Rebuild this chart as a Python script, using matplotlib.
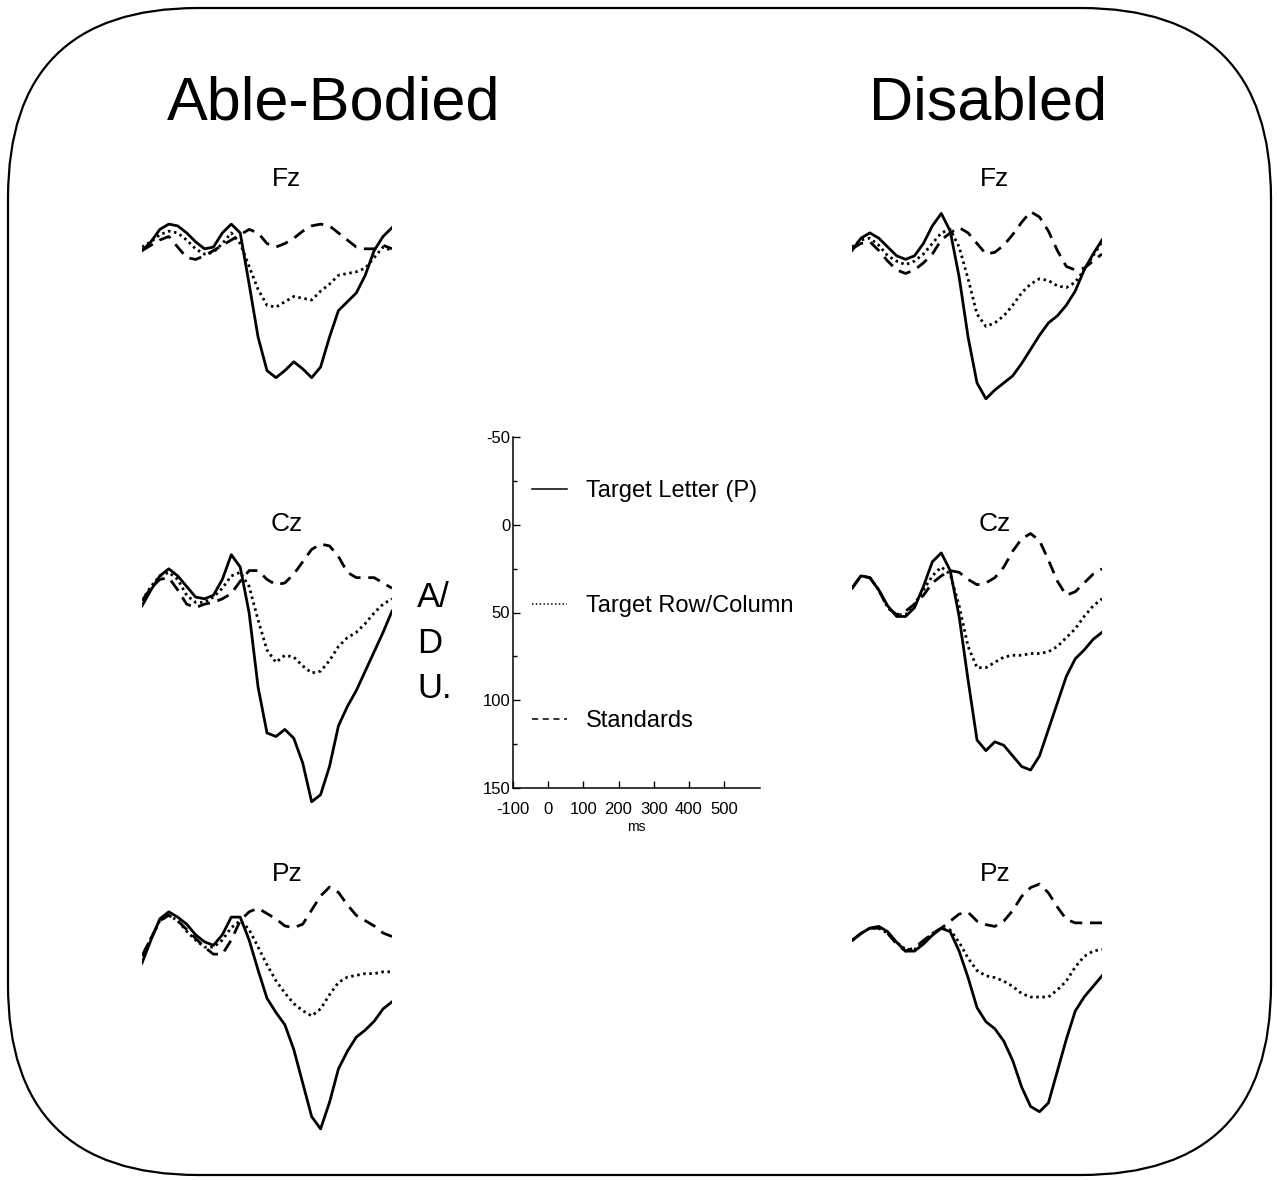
import numpy as np
import matplotlib
matplotlib.use('Agg')
import matplotlib.pyplot as plt
from matplotlib.lines import Line2D
from matplotlib.patches import FancyBboxPatch

plt.rcParams['font.family'] = ['Liberation Sans', 'DejaVu Sans']

W, H = 1277, 1180          # output size in px (dpi 100)

# ── ERP averages, A/D units (negative up), sampled every 25 ms ───────────────
TIME = np.arange(-100, 601, 25)

AB_FZ_LETTER = [6, 1, -6, -9, -8, -4, 1, 5, 4, -4, -9, -4, 25, 55, 74, 78, 74, 69, 73, 78, 72, 55, 40, 35, 30, 20, 6, -2, -7]
AB_FZ_ROW    = [4, 1, -3, -5, -4, 0, 5, 8, 7, 2, -4, 2, 15, 28, 37, 38, 35, 32, 33, 34, 29, 25, 20, 19, 18, 16, 10, 4, 6]
AB_FZ_STD    = [6, 3, 0, -2, 4, 10, 11, 9, 6, 3, 0, -3, -6, -4, 2, 4, 2, -1, -5, -8, -9, -8, -4, 0, 4, 5, 5, 3, 5]

DIS_FZ_LETTER = [2, -5, -8, -5, 0, 5, 7, 5, -2, -12, -19, -9, 17, 51, 77, 86, 81, 77, 73, 66, 58, 50, 43, 39, 33, 25, 13, 4, -4]
DIS_FZ_ROW    = [0, -4, -5, -1, 5, 8, 10, 8, 4, -2, -8, -10, 0, 18, 38, 45, 43, 39, 33, 26, 21, 18, 19, 22, 23, 20, 13, 5, -3]
DIS_FZ_STD    = [1, -2, -3, 2, 8, 13, 15, 13, 9, 4, -4, -8, -11, -8, -2, 4, 3, -1, -7, -14, -20, -17, -9, 2, 11, 13, 12, 8, 4]

AB_CZ_LETTER = [9, 0, -8, -12, -8, -2, 4, 5, 3, -6, -20, -13, 13, 55, 81, 83, 79, 84, 98, 120, 116, 100, 77, 66, 57, 46, 35, 24, 12]
AB_CZ_ROW    = [6, -2, -8, -10, -6, 3, 7, 7, 4, -1, -8, -10, -2, 17, 34, 41, 37, 38, 43, 47, 46, 40, 32, 27, 24, 19, 13, 8, 5]
AB_CZ_STD    = [6, -1, -6, -7, 0, 8, 10, 8, 7, 5, 2, -5, -11, -11, -6, -3, -4, -9, -16, -23, -26, -25, -19, -10, -7, -7, -7, -4, -1]

DIS_CZ_LETTER = [-1, -8, -7, 0, 9, 15, 15, 10, -2, -16, -21, -11, 15, 51, 85, 91, 86, 88, 94, 100, 102, 94, 79, 64, 49, 39, 34, 28, 24]
DIS_CZ_ROW    = [-1, -8, -7, 0, 10, 14, 14, 8, 0, -8, -13, -9, 9, 32, 44, 44, 41, 38, 37, 37, 36, 36, 35, 32, 27, 22, 15, 9, 5]
DIS_CZ_STD    = [-1, -8, -7, 0, 10, 14, 12, 8, 3, -4, -8, -11, -10, -6, -3, -4, -7, -13, -22, -29, -32, -28, -17, -5, 3, 1, -4, -9, -12]

AB_PZ_LETTER = [17, 4, -8, -12, -9, -5, 1, 5, 7, 1, -9, -9, 4, 21, 37, 45, 52, 66, 85, 104, 111, 96, 77, 67, 59, 55, 50, 43, 39]
AB_PZ_ROW    = [13, 3, -7, -10, -7, -1, 4, 8, 8, 4, -3, -7, -2, 8, 18, 27, 34, 40, 44, 47, 43, 35, 28, 25, 24, 23, 23, 22, 22]
AB_PZ_STD    = [13, 3, -7, -10, -7, -2, 3, 8, 12, 12, 4, -7, -12, -14, -11, -8, -4, -3, -5, -13, -21, -26, -23, -16, -10, -7, -4, 0, 2]

DIS_PZ_LETTER = [2, -2, -5, -6, -3, 3, 8, 8, 4, -1, -5, -3, 8, 23, 40, 48, 52, 59, 70, 85, 96, 99, 94, 76, 58, 42, 34, 28, 22]
DIS_PZ_ROW    = [2, -2, -5, -5, -2, 3, 7, 7, 3, -2, -5, -4, 3, 12, 19, 22, 23, 25, 28, 32, 34, 34, 34, 30, 25, 17, 11, 8, 7]
DIS_PZ_STD    = [2, -2, -5, -5, -2, 4, 8, 6, 2, -2, -5, -9, -13, -14, -9, -7, -6, -9, -15, -23, -28, -30, -25, -17, -10, -8, -8, -8, -8]

GROUPS   = ['Able-Bodied', 'Disabled']
CHANNELS = ['Fz', 'Cz', 'Pz']
CONDITIONS = ['Target Letter (P)', 'Target Row/Column', 'Standards']
SCALE_YTICKS = [-50, 0, 50, 100, 150]
SCALE_XTICKS = [-100, 0, 100, 200, 300, 400, 500]

PANELS = {
    ('Able-Bodied', 'Fz'): (AB_FZ_LETTER, AB_FZ_ROW, AB_FZ_STD),
    ('Disabled', 'Fz'):    (DIS_FZ_LETTER, DIS_FZ_ROW, DIS_FZ_STD),
    ('Able-Bodied', 'Cz'): (AB_CZ_LETTER, AB_CZ_ROW, AB_CZ_STD),
    ('Disabled', 'Cz'):    (DIS_CZ_LETTER, DIS_CZ_ROW, DIS_CZ_STD),
    ('Able-Bodied', 'Pz'): (AB_PZ_LETTER, AB_PZ_ROW, AB_PZ_STD),
    ('Disabled', 'Pz'):    (DIS_PZ_LETTER, DIS_PZ_ROW, DIS_PZ_STD),
}

# ── layout (pixels) ──────────────────────────────────────────────────────────
PX_PER_UNIT = 1.765
PANEL_W     = 250
YLO, YHI    = -45, 125
COL_X   = {'Able-Bodied': 142, 'Disabled': 852}
ROW_Y0  = {('Able-Bodied', 'Fz'): 240, ('Disabled', 'Fz'): 247,
           ('Able-Bodied', 'Cz'): 590, ('Disabled', 'Cz'): 590,
           ('Able-Bodied', 'Pz'): 933, ('Disabled', 'Pz'): 937}
LABEL_X = {'Able-Bodied': 287, 'Disabled': 995}
LABEL_Y = {'Fz': 186, 'Cz': 531, 'Pz': 881}
TITLE_X = {'Able-Bodied': 334, 'Disabled': 988}

LW = 2.0
STYLES = [dict(linestyle='-'),
          dict(linestyle=(0, (0.9, 1.3))),
          dict(linestyle=(0, (4.5, 2.8)))]


def px_axes(fig, x, y, w, h):
    return fig.add_axes([x / W, 1 - (y + h) / H, w / W, h / H])


fig = plt.figure(figsize=(W / 100, H / 100), dpi=100)
fig.patch.set_facecolor('white')

# background canvas for frame and free text
bg = px_axes(fig, 0, 0, W, H)
bg.set_xlim(0, W)
bg.set_ylim(H, 0)
bg.axis('off')
bg.add_patch(FancyBboxPatch((8, 8), W - 14, H - 13,
                            boxstyle='round,pad=0,rounding_size=190',
                            fill=False, edgecolor='black', linewidth=1.6))

for g in GROUPS:
    bg.text(TITLE_X[g], 120, g, fontsize=44, ha='center', va='baseline')
    for ch in CHANNELS:
        bg.text(LABEL_X[g], LABEL_Y[ch], ch, fontsize=19, ha='center', va='baseline')

for letter, yb in zip(['A/', 'D', 'U.'], [607, 653, 698]):
    bg.text(417, yb, letter, fontsize=25, ha='left', va='baseline')

# ── ERP panels ───────────────────────────────────────────────────────────────
for (g, ch), curves in PANELS.items():
    y0 = ROW_Y0[(g, ch)]
    top = y0 + YLO * PX_PER_UNIT
    ax = px_axes(fig, COL_X[g], top, PANEL_W, (YHI - YLO) * PX_PER_UNIT)
    for vals, st in zip(curves, STYLES):
        ax.plot(TIME, vals, color='black', linewidth=LW,
                solid_joinstyle='round', dash_capstyle='butt', **st)
    ax.set_xlim(TIME[0], TIME[-1])
    ax.set_ylim(YHI, YLO)
    ax.axis('off')

# ── calibration axis with legend ─────────────────────────────────────────────
sc = px_axes(fig, 513, 437, 247, 351)
sc.set_xlim(-100, 602)
sc.set_ylim(150, -50)
for s in ['top', 'right']:
    sc.spines[s].set_visible(False)
for s in ['left', 'bottom']:
    sc.spines[s].set_linewidth(1.1)
sc.set_yticks(SCALE_YTICKS)
sc.set_yticklabels([str(v) for v in SCALE_YTICKS], fontsize=12)
sc.set_yticks([-25, 25, 75, 125], minor=True)
sc.set_xticks(SCALE_XTICKS)
sc.set_xticklabels([str(v) for v in SCALE_XTICKS], fontsize=12)
sc.tick_params(direction='in', length=5, width=1.0)
sc.tick_params(axis='y', pad=2)
sc.tick_params(axis='x', pad=10)
sc.tick_params(which='minor', direction='in', length=3, width=1.0)
sc.set_xlabel('ms', fontsize=10, labelpad=2)

handles = [Line2D([], [], color='black', linewidth=1.1, **st) for st in
           [dict(linestyle='-'), dict(linestyle=(0, (1, 1.5))), dict(linestyle=(0, (4, 3)))]]
sc.legend(handles, CONDITIONS, loc='upper left', bbox_to_anchor=(0.077, 0.878),
          frameon=False, fontsize=17, handlelength=1.5, handletextpad=0.8,
          labelspacing=3.95, borderpad=0, borderaxespad=0)

fig.savefig('out.png', dpi=100, facecolor='white')
